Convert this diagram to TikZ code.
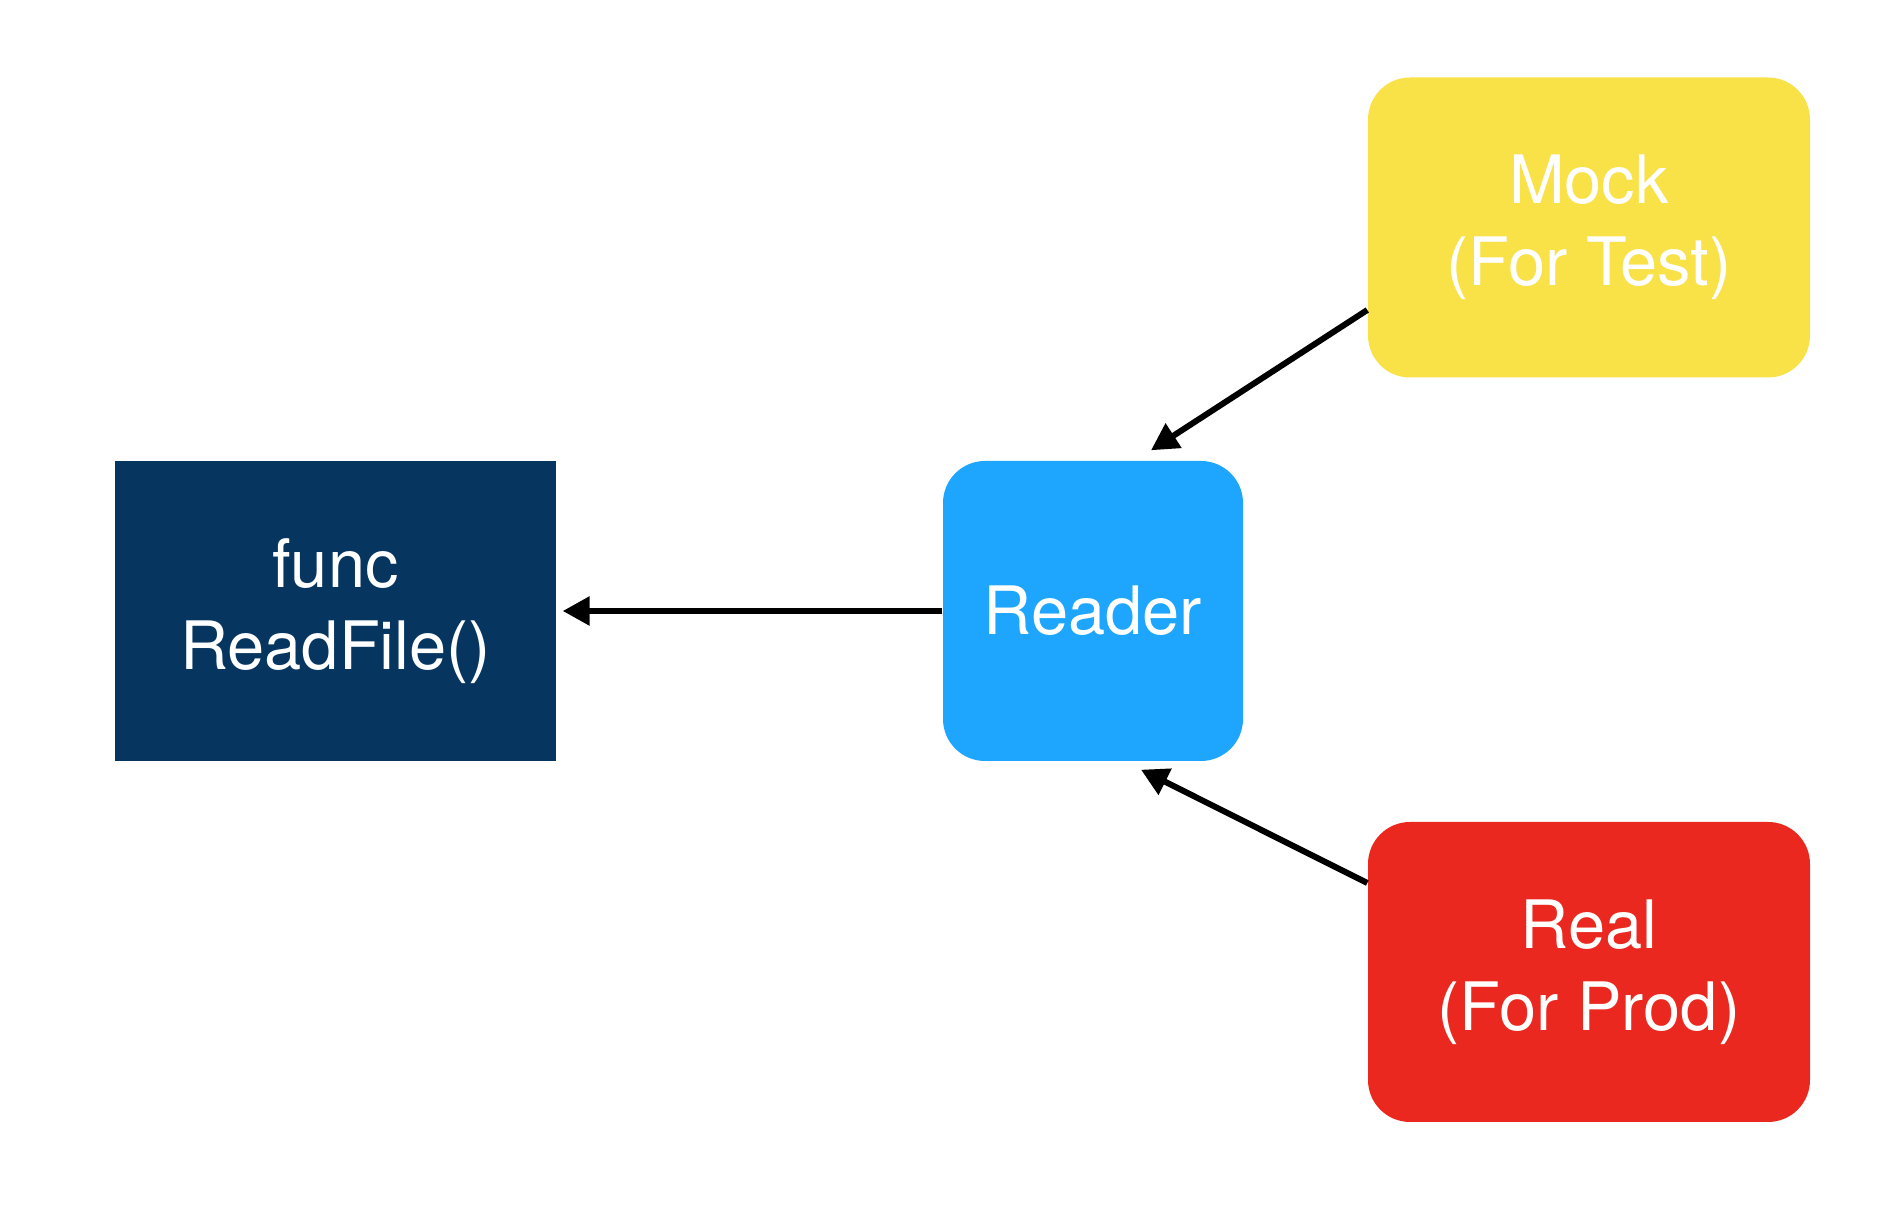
\documentclass[tikz,border=0pt]{standalone}
\usepackage{fontspec}
\setmainfont{TeX Gyre Heros}
\usetikzlibrary{arrows.meta}
\definecolor{funcnavy}{RGB}{6,53,96}
\definecolor{readerblue}{RGB}{30,166,255}
\definecolor{mockyellow}{RGB}{249,225,72}
\definecolor{realred}{RGB}{235,40,32}

\begin{document}
\begin{tikzpicture}[
    box/.style={text=white, align=center, inner sep=0pt,
                font=\fontsize{19}{23.3}\selectfont},
    link/.style={->, line width=0.06cm, >={Triangle[length=0.27cm,width=0.28cm]}}
  ]
     % margins of the whole picture
     \useasboundingbox (0,0) rectangle (18.98,12.12);

     % The function that takes the reader
     \node[box, fill=funcnavy, minimum width=4.41cm, minimum height=3cm]
          (readfile) at (3.355,6.01) {func\\ReadFile()};
     % The interface in the middle
     \node[box, fill=readerblue, rounded corners=0.42cm,
           minimum width=3cm, minimum height=3cm]
          (reader) at (10.93,6.01) {Reader};
     % Two implementations of the reader
     \node[box, fill=mockyellow, rounded corners=0.42cm,
           minimum width=4.42cm, minimum height=3cm]
          (mock) at (15.89,9.845) {Mock\\(For Test)};
     \node[box, fill=realred, rounded corners=0.42cm,
           minimum width=4.42cm, minimum height=3cm]
          (real) at (15.89,2.40) {Real\\(For Prod)};

     % Arrows into the reader and into the function
     \draw[link] (reader.west) -- ([xshift=0.06cm]readfile.east);
     \draw[link] ([yshift=-0.825cm]mock.west) -- ([xshift=0.58cm,yshift=0.10cm]reader.north);
     \draw[link] ([yshift=0.89cm]real.west) -- ([xshift=0.48cm,yshift=-0.08cm]reader.south);

\end{tikzpicture}
\end{document}
